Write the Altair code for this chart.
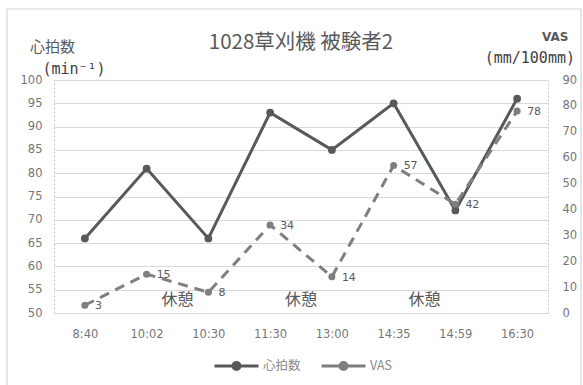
import altair as alt
import pandas as pd

# Measurement times, heart rate (beats/min) and VAS score (mm/100mm)
times = ["8:40", "10:02", "10:30", "11:30", "13:00", "14:35", "14:59", "16:30"]
heart_rate = [66, 81, 66, 93, 85, 95, 72, 96]
vas = [3, 15, 8, 34, 14, 57, 42, 78]

# Rest breaks: each one falls right after the listed time
rest_after = ["10:02", "11:30", "14:35"]
rest_text = "休憩"

series_names = ["心拍数", "VAS"]
series_colors = ["#595959", "#7f7f7f"]

rows = []
for i, t in enumerate(times):
    rows.append({"idx": i, "time": t, "series": series_names[0], "value": heart_rate[i]})
    rows.append({"idx": i, "time": t, "series": series_names[1], "value": vas[i]})
df = pd.DataFrame(rows)
rest_df = pd.DataFrame({"idx": [times.index(t) + 0.5 for t in rest_after], "label": rest_text})

JP = "Noto Sans CJK JP"
NUM = "DejaVu Sans"
GRID = "#d9d9d9"
LABEL = "#767676"

label_expr = "[" + ",".join(f"'{t}'" for t in times) + "][datum.value]"
x_enc = alt.X(
    "idx:Q",
    scale=alt.Scale(domain=[-0.5, len(times) - 0.5], nice=False, zero=False),
    axis=alt.Axis(
        values=list(range(len(times))), labelExpr=label_expr, title=None,
        grid=False, ticks=False, tickSize=0, domain=False,
        labelPadding=15, labelFont=NUM, labelFontSize=11.5, labelColor=LABEL,
    ),
)

color_enc = alt.Color(
    "series:N",
    scale=alt.Scale(domain=series_names, range=series_colors),
    legend=alt.Legend(
        title=None, orient="none", direction="horizontal",
        legendX=159, legendY=262, padding=0,
        symbolType="M-1,0L1,0M-0.16,0A0.16,0.16 0 1,1 0.16,0A0.16,0.16 0 1,1 -0.16,0",
        symbolSize=1936, symbolStrokeWidth=3, symbolFillColor="#6a6a6a",
        labelFont=JP, labelFontSize=12.5, labelColor="#8a8a8a",
        labelOffset=3, columnPadding=14,
    ),
)

hr_y = alt.Y(
    "value:Q",
    scale=alt.Scale(domain=[50, 100], nice=False, zero=False),
    axis=alt.Axis(
        values=list(range(50, 101, 5)), orient="left",
        title="心拍数", titleAngle=0, titleAlign="center", titleBaseline="middle",
        titleX=-2, titleY=-34, titleFont=JP, titleFontSize=15,
        titleFontWeight="normal", titleColor="#595959",
        grid=True, gridColor=GRID, gridWidth=1.2,
        ticks=False, tickSize=0, labelPadding=12,
        labelFont=NUM, labelFontSize=11.5, labelColor=LABEL,
        domainColor="#c8c8c8", domainDash=[2, 2],
    ),
)

vas_y = alt.Y(
    "value:Q",
    scale=alt.Scale(domain=[0, 90], nice=False),
    axis=alt.Axis(
        values=list(range(0, 91, 10)), orient="right",
        title="VAS", titleAngle=0, titleAlign="right", titleBaseline="middle",
        titleX=20, titleY=-44, titleFont=NUM, titleFontSize=12,
        titleFontWeight="bold", titleColor="#595959",
        grid=False, ticks=False, tickSize=0, labelPadding=14,
        labelFont=NUM, labelFontSize=11.5, labelColor=LABEL,
        domainColor="#c8c8c8", domainDash=[2, 2],
    ),
)

hr_base = alt.Chart(df).transform_filter(alt.datum.series == series_names[0])
hr_line = hr_base.mark_line(strokeWidth=3).encode(x=x_enc, y=hr_y, color=color_enc)
hr_pts = hr_base.mark_point(filled=True, size=60, opacity=1).encode(x=x_enc, y=hr_y, color=color_enc)
rest = alt.Chart(rest_df).mark_text(
    font=JP, fontSize=16, color="#595959", baseline="middle"
).encode(x=alt.X("idx:Q"), y=alt.value(220), text="label:N")
hr_layer = alt.layer(hr_line, hr_pts, rest)

vas_base = alt.Chart(df).transform_filter(alt.datum.series == series_names[1])
vas_line = vas_base.mark_line(strokeWidth=3, strokeDash=[10, 7]).encode(x=x_enc, y=vas_y, color=color_enc)
vas_pts = vas_base.mark_point(filled=True, size=50, opacity=1).encode(x=x_enc, y=vas_y, color=color_enc)
vas_txt = vas_base.mark_text(
    align="left", baseline="middle", dx=10, dy=1, font=NUM, fontSize=11, color="#595959"
).encode(x=x_enc, y=vas_y, text="value:Q")
vas_layer = alt.layer(vas_line, vas_pts, vas_txt)

# unit lines under the two axis titles, and the outer frame
one = alt.Data(values=[{}])
min_unit = alt.Chart(one).mark_text(
    text="(min⁻¹)", font="DejaVu Sans Mono", fontSize=15, color="#404040",
    align="center", baseline="middle",
).encode(x=alt.value(20), y=alt.value(-11))
mm_unit = alt.Chart(one).mark_text(
    text="(mm/100mm)", font="DejaVu Sans Mono", fontSize=15, color="#404040",
    align="right", baseline="middle",
).encode(x=alt.value(521), y=alt.value(-22))
frame = alt.Chart(one).mark_rect(fill="transparent", stroke="#d4d4d4", strokeWidth=1.2).encode(
    x=alt.value(-47), x2=alt.value(527), y=alt.value(-71), y2=alt.value(320)
)

chart = (
    alt.layer(frame, hr_layer, vas_layer, min_unit, mm_unit)
    .resolve_scale(y="independent")
    .properties(
        width=494, height=233,
        autosize=alt.AutoSizeParams(type="none"),
        padding={"left": 54, "top": 80, "right": 35, "bottom": 72},
        background="white",
        title=alt.TitleParams(
            "1028草刈機 被験者2", font=JP, fontSize=20.5, fontWeight="normal",
            color="#595959", anchor="middle", frame="group", offset=28, dy=73,
        ),
    )
    .configure_view(strokeWidth=0)
)

chart.save("out.html", embed_options={"renderer": "svg", "actions": False})
